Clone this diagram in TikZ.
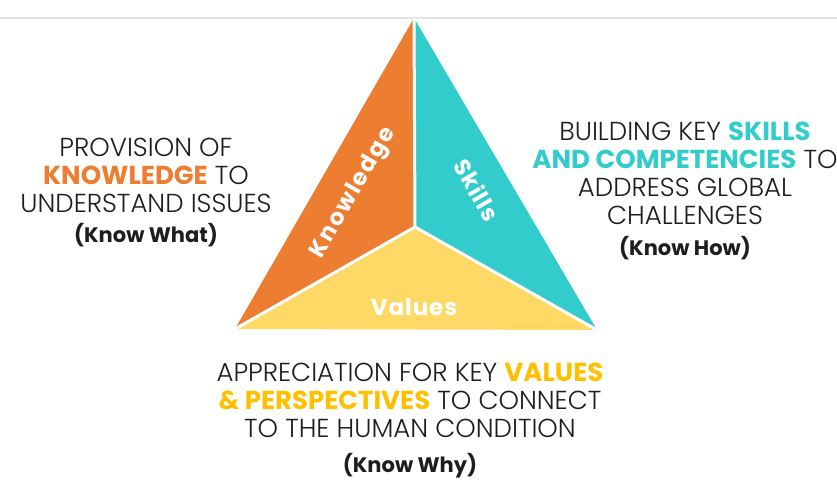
\documentclass[tikz,border=0pt]{standalone}
\usepackage{fontspec}
\setmainfont{Poppins}[UprightFont={* Light}, BoldFont={* Bold}]
\usepackage{tikz}

\definecolor{knoworange}{HTML}{ED7D31}
\definecolor{skillteal}{HTML}{33CCCC}
\definecolor{valueyellow}{HTML}{FFD966}
\definecolor{valuegold}{HTML}{FFC000}
\definecolor{rulegray}{HTML}{E3E3E3}
\definecolor{inkgray}{HTML}{1E1E1E}

\newcommand{\knowhow}[1]{{\bfseries\fontsize{21}{25}\selectfont #1}}

\begin{document}
\begin{tikzpicture}[x=1pt, y=1pt,
    caption/.style={align=center, text=inkgray, inner sep=0pt,
      font=\fontsize{26}{28}\selectfont},
    facelabel/.style={text=white, inner sep=0pt,
      font=\bfseries\fontsize{23}{27}\selectfont}]
    \useasboundingbox (0,0) rectangle (837,479);

    % Draw the rule along the top
    \draw[rulegray, line width=2pt] (0,461) -- (837,461);

    % Corners of the triangle
    \coordinate (top) at (414,461);
    \coordinate (left) at (235,150);
    \coordinate (right) at (597,149);
    \coordinate (mid) at (415,252);

    % Fill the three faces
    \fill[knoworange] (top) -- (left) -- (mid) -- cycle;
    \fill[skillteal] (top) -- (mid) -- (right) -- cycle;
    \fill[valueyellow] (left) -- (right) -- (mid) -- cycle;

    % White gaps between the faces
    \draw[white, line width=3pt] (top) -- (mid) (left) -- (mid) -- (right);

    % Labels on the faces
    \node[facelabel, rotate=60] (klabel) at (354,286)
      {\addfontfeatures{LetterSpace=8}Knowledge};
    \node[facelabel, rotate=-60] (slabel) at (477,289)
      {\addfontfeatures{LetterSpace=4}Skills};
    \node[facelabel] (vlabel) at (414,172)
      {\addfontfeatures{LetterSpace=4}Values};

    % Text around the triangle
    \node[caption] (know) at (146,286) {PROVISION OF\\
      \textbf{\textcolor{knoworange}{KNOWLEDGE}} TO\\
      UNDERSTAND ISSUES\\[2pt]
      \knowhow{(Know What)}};
    \node[caption] (skill) at (685,288) {BUILDING KEY \textbf{\textcolor{skillteal}{SKILLS}}\\
      \textbf{\textcolor{skillteal}{AND COMPETENCIES}} TO\\
      ADDRESS GLOBAL\\
      CHALLENGES\\[3pt]
      \knowhow{(Know How)}};
    \node[caption] (value) at (410,58) {APPRECIATION FOR KEY \textbf{\textcolor{valuegold}{VALUES}}\\
      \textbf{\textcolor{valuegold}{\& PERSPECTIVES}} TO CONNECT\\
      TO THE HUMAN CONDITION\\[7pt]
      \knowhow{(Know Why)}};
\end{tikzpicture}
\end{document}
